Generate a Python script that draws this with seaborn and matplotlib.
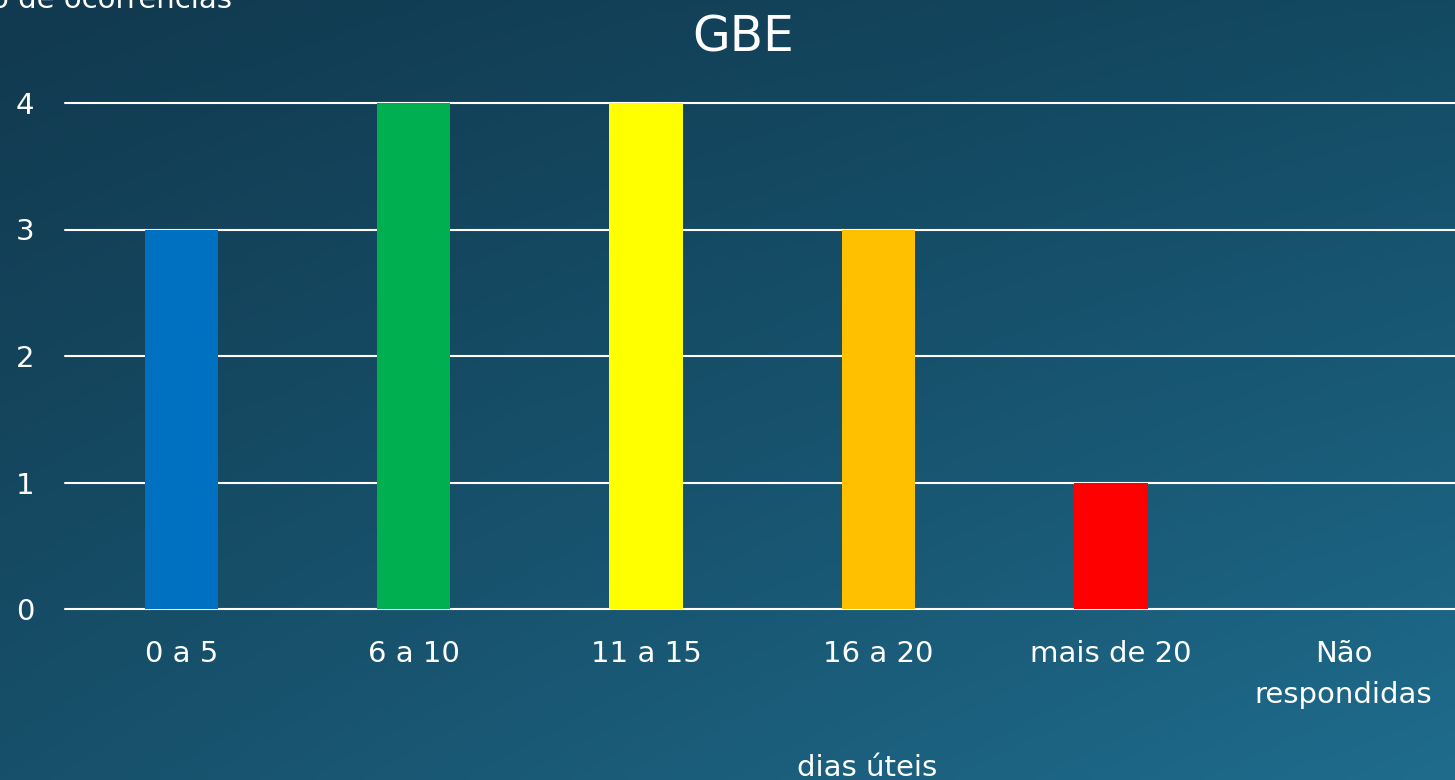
import numpy as np
import pandas as pd
import matplotlib
matplotlib.use("Agg")
import matplotlib.pyplot as plt
import seaborn as sns

categorias = ["0 a 5", "6 a 10", "11 a 15", "16 a 20", "mais de 20", "Não\nrespondidas"]
ocorrencias = [3, 4, 4, 3, 1, 0]
cores = ["#0070C0", "#00B050", "#FFFF00", "#FFC000", "#FF0000", "#7F7F7F"]
y_ticks = [0, 1, 2, 3, 4]

sns.set_style("white")
plt.rcParams["font.family"] = ["DejaVu Sans"]

fig = plt.figure(figsize=(14.55, 7.8), dpi=100)

# background gradient (dark top-left -> lighter bottom-right)
bg = fig.add_axes([0, 0, 1, 1], zorder=-10)
xx, yy = np.meshgrid(np.linspace(0, 1, 300), np.linspace(0, 1, 160))
tl = np.array([17, 57, 79]) / 255
tr = np.array([19, 74, 98]) / 255
bl = np.array([23, 80, 106]) / 255
br = np.array([31, 108, 141]) / 255
img = (tl * ((1 - xx) * (1 - yy))[..., None] + tr * (xx * (1 - yy))[..., None]
       + bl * ((1 - xx) * yy)[..., None] + br * (xx * yy)[..., None])
bg.imshow(img, aspect="auto", extent=[0, 1, 1, 0])
bg.axis("off")

ax = fig.add_axes([65 / 1455, 1 - 609 / 780, 1 - 65 / 1455, (609 - 103) / 780])
ax.patch.set_alpha(0)

df = pd.DataFrame({"cat": categorias, "val": ocorrencias})
sns.barplot(data=df, x="cat", y="val", hue="cat", palette=cores, legend=False,
            width=0.315, saturation=1, linewidth=0, ax=ax, zorder=3)

ax.set_xlim(-0.5, 5.48)
ax.set_ylim(0, 4)
ax.set_yticks(y_ticks)
ax.yaxis.grid(True, color="white", linewidth=1.5, clip_on=False)
ax.set_axisbelow(True)
for s in ax.spines.values():
    s.set_visible(False)
ax.tick_params(axis="both", length=0, colors="white", labelsize=21)
ax.tick_params(axis="y", pad=22)
ax.tick_params(axis="x", pad=22)
for lbl in ax.get_xticklabels():
    lbl.set_linespacing(1.6)
ax.set_ylabel("")
ax.set_xlabel("dias úteis", color="white", fontsize=21)
ax.xaxis.label.set_va("baseline")
ax.xaxis.set_label_coords((867 - 65) / 1390, (609 - 776) / 506)

fig.text(0.511, 1 - 37 / 780, "GBE", color="white", fontsize=35,
         ha="center", va="center")
fig.text(232 / 1455, 1 - 8 / 780, "Número de ocorrências", color="white",
         fontsize=21, ha="right", va="baseline")

fig.savefig("out.png", dpi=100)
